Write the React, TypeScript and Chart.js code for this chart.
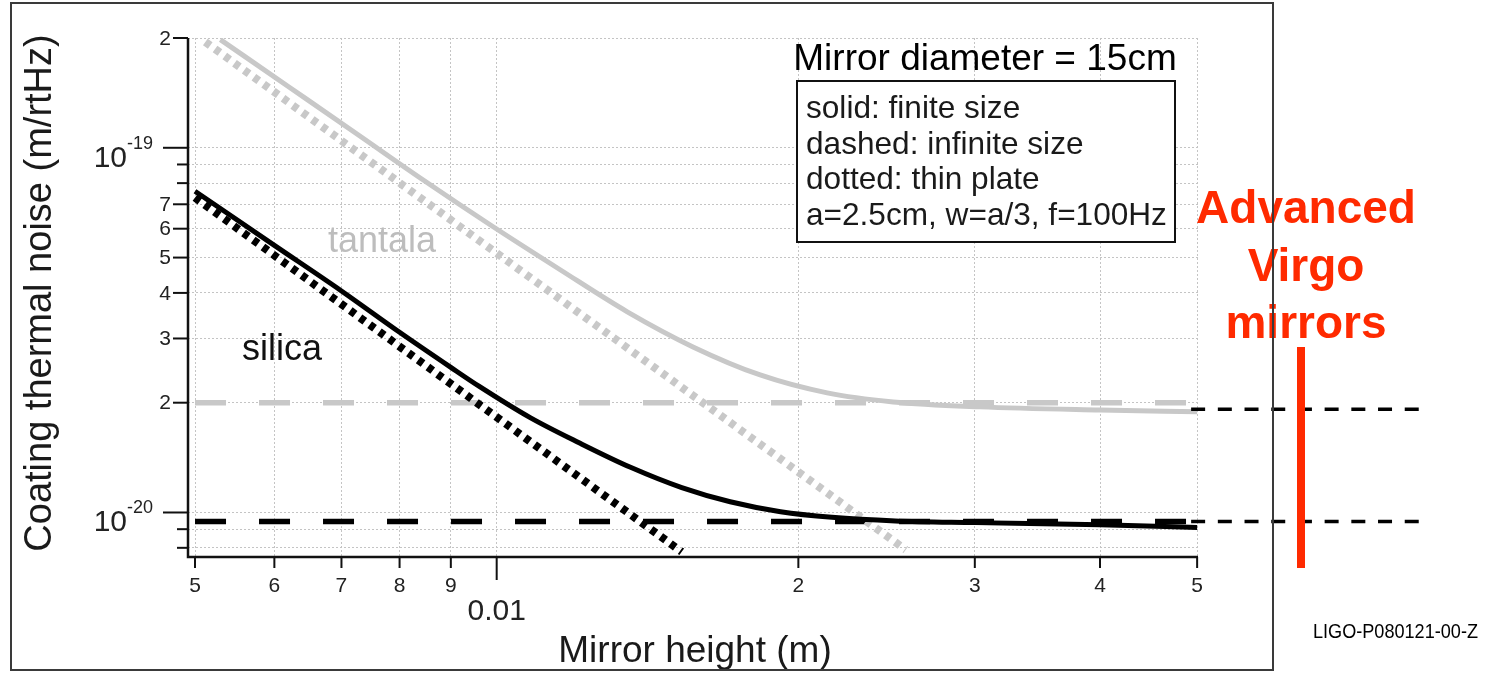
import React, { useEffect, useRef } from 'react';
import { Chart, registerables } from 'chart.js';

Chart.register(...registerables);

// ---------------- data ----------------
// Mirror height (m) / coating thermal noise (m/rtHz)
const silicaSolidH = [0.005, 0.006, 0.007, 0.008, 0.009, 0.0096, 0.0108, 0.0121, 0.0136, 0.0153, 0.0171, 0.0192, 0.0216, 0.025, 0.03, 0.04, 0.05];
const silicaSolidV = [7.6e-20, 5.4e-20, 4.05e-20, 3.12e-20, 2.5e-20, 2.22e-20, 1.82e-20, 1.55e-20, 1.33e-20, 1.17e-20, 1.07e-20, 1.005e-20, 9.7e-21, 9.48e-21, 9.38e-21, 9.25e-21, 9.1e-21];

const tantalaSolidH = [0.0053, 0.00622, 0.00726, 0.00844, 0.00985, 0.01157, 0.0135, 0.0157, 0.01832, 0.02137, 0.02487, 0.03037, 0.04, 0.05];
const tantalaSolidV = [1.98e-19, 1.461e-19, 1.089e-19, 8.17e-20, 6.15e-20, 4.63e-20, 3.55e-20, 2.845e-20, 2.383e-20, 2.128e-20, 2.01e-20, 1.948e-20, 1.91e-20, 1.89e-20];

const silicaDottedH = [0.005, 0.0153];
const silicaDottedV = [7.3e-20, 7.8e-21];
const tantalaDottedH = [0.00512, 0.0256];
const tantalaDottedV = [1.95e-19, 7.9e-21];

const dashedH = [0.005, 0.05];
const silicaDashedV = [9.45e-21, 9.45e-21];
const tantalaDashedV = [2.0e-20, 2.0e-20];

// Advanced Virgo reference levels (dashed lines outside the frame)
const virgoLevels = [1.92e-20, 9.45e-21];

// axis ranges & ticks
const xMin = 0.00492;
const xMax = 0.0501;
const yMin = 7.55e-21;
const yMax = 2.0e-19;

const xTickValues = [0.005, 0.006, 0.007, 0.008, 0.009, 0.01, 0.02, 0.03, 0.04, 0.05];
const xTickLabels = ['5', '6', '7', '8', '9', '0.01', '2', '3', '4', '5'];

const yTickValues = [2e-19, 1e-19, 9e-20, 8e-20, 7e-20, 6e-20, 5e-20, 4e-20, 3e-20, 2e-20, 1e-20, 9e-21, 8e-21];
const yTickMantissa = ['2', '10', '', '', '7', '6', '5', '4', '3', '2', '10', '', ''];
const yTickExponent = ['', '-19', '', '', '', '', '', '', '', '', '-20', '', ''];

const xTitle = 'Mirror height (m)';
const yTitle = 'Coating thermal noise (m/rtHz)';
const headerText = 'Mirror diameter = 15cm';
const boxLines = ['solid: finite size', 'dashed: infinite size', 'dotted: thin plate', 'a=2.5cm, w=a/3, f=100Hz'];
const redLines = ['Advanced', 'Virgo', 'mirrors'];
const docId = 'LIGO-P080121-00-Z';

// ---------------- styling ----------------
const FONT = '"Liberation Sans", Arial, Helvetica, sans-serif';
const BLACK = '#000000';
const GRAY = '#c8c8c8';
const RED = '#ff2a00';

const pts = (h: number[], v: number[]) => h.map((x, i) => ({ x, y: v[i] }));

const overlayPlugin = {
  id: 'overlay',
  afterDraw(chart: any) {
    const ctx: CanvasRenderingContext2D = chart.ctx;
    const xs = chart.scales.x;
    const ys = chart.scales.y;
    const a = chart.chartArea;
    ctx.save();

    // axis lines
    ctx.strokeStyle = '#111';
    ctx.lineWidth = 2.5;
    ctx.setLineDash([]);
    ctx.beginPath();
    ctx.moveTo(a.left, a.top);
    ctx.lineTo(a.left, a.bottom);
    ctx.lineTo(a.right, a.bottom);
    ctx.stroke();

    // y ticks + labels
    ctx.lineWidth = 2;
    ctx.fillStyle = '#222';
    yTickValues.forEach((v, i) => {
      const y = ys.getPixelForValue(v);
      const major = yTickExponent[i] !== '';
      const labeled = yTickMantissa[i] !== '';
      const len = major ? 25 : labeled ? 15 : 11;
      ctx.beginPath();
      ctx.moveTo(a.left - len, y);
      ctx.lineTo(a.left, y);
      ctx.stroke();
      if (major) {
        ctx.font = `30px ${FONT}`;
        ctx.textAlign = 'right';
        ctx.textBaseline = 'alphabetic';
        ctx.fillText(yTickMantissa[i], a.left - 61, y + 19);
        ctx.font = `18px ${FONT}`;
        ctx.textAlign = 'left';
        ctx.fillText(yTickExponent[i], a.left - 61, y + 1);
      } else if (labeled) {
        ctx.font = `21px ${FONT}`;
        ctx.textAlign = 'right';
        ctx.textBaseline = 'middle';
        ctx.fillText(yTickMantissa[i], a.left - 17, y + 1);
      }
    });

    // x ticks + labels
    xTickValues.forEach((v, i) => {
      const x = xs.getPixelForValue(v);
      const major = xTickLabels[i] === '0.01';
      const len = major ? 23 : 11;
      ctx.beginPath();
      ctx.moveTo(x, a.bottom);
      ctx.lineTo(x, a.bottom + len);
      ctx.stroke();
      ctx.textAlign = 'center';
      ctx.textBaseline = 'middle';
      if (major) {
        ctx.font = `30px ${FONT}`;
        ctx.fillText(xTickLabels[i], x, a.bottom + 55);
      } else {
        ctx.font = `21px ${FONT}`;
        ctx.fillText(xTickLabels[i], x, a.bottom + 29);
      }
    });

    // axis titles
    ctx.fillStyle = '#1a1a1a';
    ctx.font = `37px ${FONT}`;
    ctx.textAlign = 'center';
    ctx.textBaseline = 'middle';
    ctx.fillText(xTitle, 695, 652);
    ctx.save();
    ctx.translate(41, 293);
    ctx.rotate(-Math.PI / 2);
    ctx.font = `38px ${FONT}`;
    ctx.fillText(yTitle, 0, 0);
    ctx.restore();

    // series labels
    ctx.textAlign = 'left';
    ctx.textBaseline = 'alphabetic';
    ctx.font = `36px ${FONT}`;
    ctx.fillStyle = '#bdbdbd';
    ctx.fillText('tantala', 328, 252);
    ctx.fillStyle = '#111';
    ctx.fillText('silica', 242, 360);

    // header + legend box
    ctx.font = `37px ${FONT}`;
    ctx.fillStyle = '#000';
    ctx.textAlign = 'center';
    ctx.fillText(headerText, 985, 70);
    ctx.fillStyle = '#fff';
    ctx.fillRect(797, 81, 378, 161);
    ctx.strokeStyle = '#111';
    ctx.lineWidth = 2;
    ctx.strokeRect(797, 81, 378, 161);
    ctx.fillStyle = '#1a1a1a';
    ctx.textAlign = 'left';
    ctx.font = `31.6px ${FONT}`;
    boxLines.forEach((t, i) => ctx.fillText(t, 806, 118 + i * 35.7));

    // red annotation
    ctx.fillStyle = RED;
    ctx.font = `bold 46px ${FONT}`;
    ctx.textAlign = 'center';
    [223, 281, 338].forEach((yb, i) => ctx.fillText(redLines[i], 1306, yb));

    // dashed reference levels
    ctx.strokeStyle = '#000';
    ctx.lineWidth = 3.5;
    ctx.setLineDash([14, 12.7]);
    const xStart = xs.getPixelForValue(0.05) - 6;
    virgoLevels.forEach((lv) => {
      const y = ys.getPixelForValue(lv);
      ctx.beginPath();
      ctx.moveTo(xStart, y);
      ctx.lineTo(1420, y);
      ctx.stroke();
    });
    ctx.setLineDash([]);

    // red vertical bar
    ctx.strokeStyle = RED;
    ctx.lineWidth = 8;
    ctx.beginPath();
    ctx.moveTo(1301, 347);
    ctx.lineTo(1301, 568);
    ctx.stroke();

    // outer frame
    ctx.strokeStyle = '#3a3a3a';
    ctx.lineWidth = 2;
    ctx.strokeRect(11, 3, 1262, 667);

    // document id
    ctx.fillStyle = '#000';
    ctx.font = `21px ${FONT}`;
    ctx.textAlign = 'left';
    ctx.textBaseline = 'alphabetic';
    const w = ctx.measureText(docId).width;
    ctx.save();
    ctx.translate(1313, 638);
    ctx.scale(165 / w, 1);
    ctx.fillText(docId, 0, 0);
    ctx.restore();

    ctx.restore();
  },
};

export default function App() {
  const ref = useRef<HTMLCanvasElement | null>(null);

  useEffect(() => {
    if (!ref.current) return;
    const common = { pointRadius: 0, fill: false, borderCapStyle: 'butt' as const };
    const chart = new Chart(ref.current, {
      type: 'line',
      data: {
        datasets: [
          { ...common, label: 'silica solid', data: pts(silicaSolidH, silicaSolidV), borderColor: BLACK, borderWidth: 5, cubicInterpolationMode: 'monotone' },
          { ...common, label: 'tantala dotted', data: pts(tantalaDottedH, tantalaDottedV), borderColor: GRAY, borderWidth: 8, borderDash: [6, 6] },
          { ...common, label: 'silica dotted', data: pts(silicaDottedH, silicaDottedV), borderColor: BLACK, borderWidth: 8, borderDash: [6, 6] },
          { ...common, label: 'tantala solid', data: pts(tantalaSolidH, tantalaSolidV), borderColor: GRAY, borderWidth: 5, cubicInterpolationMode: 'monotone' },
          { ...common, label: 'silica dashed', data: pts(dashedH, silicaDashedV), borderColor: BLACK, borderWidth: 5.5, borderDash: [31, 33] },
          { ...common, label: 'tantala dashed', data: pts(dashedH, tantalaDashedV), borderColor: GRAY, borderWidth: 5.5, borderDash: [31, 33] },
        ] as any,
      },
      options: {
        responsive: false,
        animation: false,
        devicePixelRatio: 1,
        layout: { padding: { left: 188, top: 38, right: 298, bottom: 116 } },
        plugins: { legend: { display: false }, tooltip: { enabled: false } },
        scales: {
          x: {
            type: 'logarithmic',
            min: xMin,
            max: xMax,
            afterBuildTicks: (s: any) => { s.ticks = xTickValues.map((value) => ({ value })); },
            afterFit: (s: any) => { s.height = 0; },
            ticks: { display: false },
            grid: { color: '#c4c4c4', lineWidth: 1, drawTicks: false },
            border: { display: false, dash: [2, 2] },
          },
          y: {
            type: 'logarithmic',
            min: yMin,
            max: yMax,
            afterBuildTicks: (s: any) => { s.ticks = yTickValues.map((value) => ({ value })); },
            afterFit: (s: any) => { s.width = 0; },
            ticks: { display: false },
            grid: { color: '#c4c4c4', lineWidth: 1, drawTicks: false },
            border: { display: false, dash: [2, 2] },
          },
        },
      } as any,
      plugins: [overlayPlugin],
    });
    return () => chart.destroy();
  }, []);

  return (
    <div style={{ position: 'absolute', left: 0, top: 0, width: 1496, height: 673, background: '#fff' }}>
      <canvas ref={ref} width={1496} height={673} style={{ display: 'block', width: 1496, height: 673 }} />
    </div>
  );
}
